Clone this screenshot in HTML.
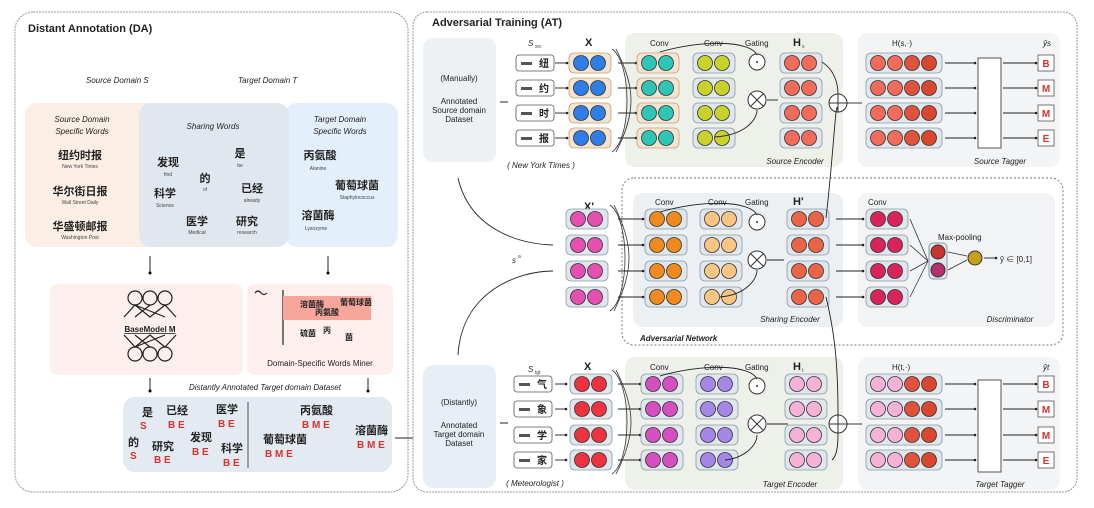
<!DOCTYPE html>
<html><head><meta charset="utf-8"><style>
html,body{margin:0;padding:0;background:#fff;width:1094px;height:508px;overflow:hidden}
svg{display:block}
text{font-family:"Liberation Sans","Noto Sans CJK SC",sans-serif;fill:#222}
.t{font-size:11px;font-weight:bold}
.s{font-size:8px}
.i{font-style:italic}
.cj{font-size:11px;font-weight:bold}
.tiny{font-size:5px;fill:#444}
.red{fill:#d9322e;font-weight:bold;font-size:10px}
</style></head><body>
<svg id="sv" width="1094" height="508" viewBox="0 0 1094 508" xmlns="http://www.w3.org/2000/svg">
<defs><marker id="ar" markerWidth="5" markerHeight="5" refX="4" refY="2.5" orient="auto"><path d="M0,0 L5,2.5 L0,5z" fill="#222"/></marker></defs>
<rect x="15" y="12" width="393" height="480" rx="18" fill="#fff" stroke="#999" stroke-dasharray="2,1"/>
<text x="28" y="32" class="t">Distant Annotation (DA)</text>
<text x="86" y="83" class="s i" font-size="10">Source Domain S</text>
<text x="238" y="83" class="s i" font-size="10">Target Domain T</text>
<rect x="25" y="103" width="135" height="144" rx="12" fill="#fbeee4"/>
<rect x="285" y="103" width="113" height="144" rx="12" fill="#e3effa"/>
<rect x="139" y="103" width="150" height="144" rx="12" fill="#e1e7ee"/>
<text x="82" y="122" class="s i" text-anchor="middle" font-size="9.5">Source Domain</text>
<text x="82" y="134" class="s i" text-anchor="middle" font-size="9.5">Specific Words</text>
<text x="213" y="129" class="s i" text-anchor="middle" font-size="9.5">Sharing Words</text>
<text x="340" y="122" class="s i" text-anchor="middle" font-size="9.5">Target Domain</text>
<text x="340" y="134" class="s i" text-anchor="middle" font-size="9.5">Specific Words</text>
<text x="80" y="159" class="cj" text-anchor="middle">纽约时报</text><text x="80" y="168" class="tiny" text-anchor="middle">New York Times</text>
<text x="80" y="195" class="cj" text-anchor="middle">华尔街日报</text><text x="80" y="204" class="tiny" text-anchor="middle">Wall Street Daily</text>
<text x="80" y="230" class="cj" text-anchor="middle">华盛顿邮报</text><text x="80" y="239" class="tiny" text-anchor="middle">Washington Post</text>
<text x="168" y="166" class="cj" text-anchor="middle">发现</text><text x="168" y="176" class="tiny" text-anchor="middle">find</text>
<text x="205" y="182" class="cj" text-anchor="middle">的</text><text x="205" y="191" class="tiny" text-anchor="middle">of</text>
<text x="240" y="157" class="cj" text-anchor="middle">是</text><text x="240" y="167" class="tiny" text-anchor="middle">be</text>
<text x="165" y="197" class="cj" text-anchor="middle">科学</text><text x="165" y="207" class="tiny" text-anchor="middle">Science</text>
<text x="252" y="192" class="cj" text-anchor="middle">已经</text><text x="252" y="202" class="tiny" text-anchor="middle">already</text>
<text x="197" y="225" class="cj" text-anchor="middle">医学</text><text x="197" y="234" class="tiny" text-anchor="middle">Medical</text>
<text x="247" y="225" class="cj" text-anchor="middle">研究</text><text x="247" y="234" class="tiny" text-anchor="middle">research</text>
<text x="320" y="159" class="cj" text-anchor="middle">丙氨酸</text><text x="318" y="170" class="tiny" text-anchor="middle">Alanine</text>
<text x="357" y="189" class="cj" text-anchor="middle">葡萄球菌</text><text x="357" y="199" class="tiny" text-anchor="middle">Staphylococcus</text>
<text x="318" y="219" class="cj" text-anchor="middle">溶菌酶</text><text x="316" y="230" class="tiny" text-anchor="middle">Lysozyme</text>
<line x1="150" y1="256" x2="150" y2="272" stroke="#222"/><circle cx="150" cy="273" r="1.5"/>
<line x1="328" y1="256" x2="328" y2="272" stroke="#222"/><circle cx="328" cy="273" r="1.5"/>
<rect x="50" y="284" width="193" height="91" rx="8" fill="#fcefed"/>
<rect x="247" y="284" width="146" height="91" rx="8" fill="#fcefed"/>
<g fill="none" stroke="#222" stroke-width="1.2">
<circle cx="135" cy="298" r="7"/><circle cx="150" cy="298" r="7"/><circle cx="165" cy="298" r="7"/>
<path d="M124,317 L135,305 L150,317 L165,305 L176,317 M135,305 L165,317 M150,305 L135,317 M165,305 L150,317"/>
<path d="M124,335 L135,347 L150,335 L165,347 L176,335 M135,347 L165,335 M150,347 L135,335 M165,347 L150,335"/>
<circle cx="135" cy="354" r="7"/><circle cx="150" cy="354" r="7"/><circle cx="165" cy="354" r="7"/>
<path d="M255,293 q3,-4 6,0 q3,3 6,0"/>
<line x1="283" y1="290" x2="283" y2="345"/>
</g>
<text x="150" y="332" class="s" text-anchor="middle" font-weight="bold" text-decoration="underline">BaseModel M</text>
<rect x="283" y="296" width="88" height="24" fill="#f7a69c"/>
<text x="300" y="307" class="s" font-weight="bold">溶菌酶</text><text x="340" y="305" class="s" font-weight="bold">葡萄球菌</text>
<text x="315" y="315" class="s" font-weight="bold">丙氨酸</text>
<text x="300" y="336" class="s" font-weight="bold">硫菌</text><text x="323" y="333" class="s" font-weight="bold">丙</text><text x="345" y="340" class="s" font-weight="bold">菌</text>
<text x="320" y="366" class="s" text-anchor="middle" font-size="7.5">Domain-Specific Words Miner</text>
<line x1="150" y1="378" x2="150" y2="390" stroke="#222"/><circle cx="150" cy="391" r="1.5"/>
<line x1="368" y1="378" x2="368" y2="390" stroke="#222"/><circle cx="368" cy="391" r="1.5"/>
<text x="265" y="390" class="s i" text-anchor="middle" font-size="7.5">Distantly Annotated Target domain Dataset</text>
<rect x="123" y="397" width="269" height="75" rx="12" fill="#e4eaf1"/>
<line x1="248" y1="402" x2="248" y2="468" stroke="#555"/>
<text x="142" y="416" class="cj">是</text><text x="140" y="429" class="red">S</text>
<text x="166" y="414" class="cj">已经</text><text x="168" y="428" class="red">B E</text>
<text x="216" y="413" class="cj">医学</text><text x="218" y="427" class="red">B E</text>
<text x="128" y="446" class="cj">的</text><text x="130" y="459" class="red">S</text>
<text x="152" y="450" class="cj">研究</text><text x="154" y="463" class="red">B E</text>
<text x="190" y="441" class="cj">发现</text><text x="192" y="455" class="red">B E</text>
<text x="221" y="452" class="cj">科学</text><text x="223" y="466" class="red">B E</text>
<text x="300" y="414" class="cj">丙氨酸</text><text x="302" y="428" class="red">B M E</text>
<text x="263" y="443" class="cj">葡萄球菌</text><text x="265" y="457" class="red">B M E</text>
<text x="355" y="434" class="cj">溶菌酶</text><text x="357" y="448" class="red">B M E</text>
<line x1="395" y1="438" x2="418" y2="438" stroke="#222" marker-end="url(#ar)"/>

<rect x="413" y="12" width="664" height="480" rx="14" fill="#fff" stroke="#999" stroke-dasharray="2,1"/>
<text x="432" y="26" class="t">Adversarial Training (AT)</text>
<rect x="423" y="38" width="73" height="124" rx="10" fill="#eef1f4"/>
<rect x="423" y="365" width="73" height="123" rx="10" fill="#e8eef5"/>
<text x="459" y="81" class="s" text-anchor="middle" font-size="7.5">(Manually)</text>
<text x="459" y="104" class="s" text-anchor="middle" font-size="7.5">Annotated</text>
<text x="459" y="113" class="s" text-anchor="middle" font-size="7.5">Source domain</text>
<text x="459" y="122" class="s" text-anchor="middle" font-size="7.5">Dataset</text>
<text x="459" y="405" class="s" text-anchor="middle" font-size="7">(Distantly)</text>
<text x="459" y="428" class="s" text-anchor="middle" font-size="7">Annotated</text>
<text x="459" y="437" class="s" text-anchor="middle" font-size="7">Target domain</text>
<text x="459" y="446" class="s" text-anchor="middle" font-size="7">Dataset</text>
<line x1="500" y1="102" x2="508" y2="102" stroke="#222"/><line x1="500" y1="423" x2="508" y2="423" stroke="#222"/>
<text x="528" y="46" class="s i">S</text><text x="535" y="48" class="tiny">src</text>
<text x="528" y="372" class="s i">S</text><text x="535" y="374" class="tiny">tgt</text>
<text x="585" y="46" class="t" font-size="9">X</text><text x="584" y="210" class="t" font-size="9">X'</text><text x="584" y="370" class="t" font-size="9">X</text>
<text x="541" y="168" class="s i" font-size="7" text-anchor="middle">( New York Times )</text>
<text x="535" y="486" class="s i" font-size="7" text-anchor="middle">( Meteorologist )</text>
<rect x="625" y="33" width="218" height="134" rx="10" fill="#eef0ea"/>
<rect x="858" y="33" width="202" height="134" rx="10" fill="#f2f4f6"/>
<rect x="622" y="178" width="441" height="167" rx="12" fill="none" stroke="#777" stroke-dasharray="2,2"/>
<rect x="633" y="193" width="210" height="134" rx="10" fill="#edf0f3"/>
<rect x="858" y="193" width="197" height="134" rx="10" fill="#f1f3f5"/>
<rect x="625" y="357" width="218" height="133" rx="10" fill="#eef0ea"/>
<rect x="858" y="357" width="202" height="133" rx="10" fill="#f2f4f6"/>
<g class="s" font-size="7">
<text x="650" y="46">Conv</text><text x="704" y="46">Conv</text><text x="745" y="46">Gating</text>
<text x="655" y="205">Conv</text><text x="708" y="205">Conv</text><text x="745" y="205">Gating</text>
<text x="650" y="370">Conv</text><text x="704" y="370">Conv</text><text x="745" y="370">Gating</text>
<text x="868" y="205">Conv</text>
<text x="938" y="240">Max-pooling</text>
<text x="1000" y="262">ŷ ∈ [0,1]</text>
<text x="985" y="106">CRF</text><text x="985" y="432">CRF</text>
</g>
<text x="793" y="46" class="t" font-size="9">H</text><text x="802" y="48" class="tiny">s</text>
<text x="793" y="205" class="t" font-size="9">H'</text>
<text x="793" y="370" class="t" font-size="9">H</text><text x="802" y="372" class="tiny">t</text>
<text x="892" y="46" class="s" font-size="7">H(s,·)</text><text x="892" y="370" class="s" font-size="7">H(t,·)</text>
<text x="1043" y="46" class="s i" font-size="7">ŷs</text><text x="1043" y="370" class="s i" font-size="7">ŷt</text>
<text x="795" y="164" class="s i" text-anchor="middle" font-size="8.5">Source Encoder</text>
<text x="1000" y="164" class="s i" text-anchor="middle" font-size="8.5">Source  Tagger</text>
<text x="790" y="322" class="s i" text-anchor="middle" font-size="8.5">Sharing Encoder</text>
<text x="1010" y="322" class="s i" text-anchor="middle" font-size="8.5">Discriminator</text>
<text x="640" y="341" class="s i" font-weight="bold" font-size="8">Adversarial Network</text>
<text x="790" y="487" class="s i" text-anchor="middle" font-size="8.5">Target Encoder</text>
<text x="1000" y="487" class="s i" text-anchor="middle" font-size="8.5">Target  Tagger</text>
<text x="512" y="263" class="s i" font-size="8">s</text><text x="518" y="258" class="tiny">a</text>
<g id="dyn"></g>
<g fill="none" stroke="#222" stroke-width="0.9">
<path d="M458,178 C470,230 520,244 553,245"/>
<path d="M458,355 C462,290 520,271 553,271"/>
<path d="M660,52 C700,40 750,40 757,55"/>
<path d="M660,212 C700,200 750,200 757,215"/>
<path d="M660,376 C700,364 750,364 757,379"/>
<path d="M715,137 C745,135 757,120 757,110"/>
<path d="M720,297 C745,295 757,280 757,270"/>
<path d="M725,460 C745,458 757,445 757,435"/>
<path d="M822,62 C835,70 838,85 838,94"/>
<path d="M826,218 C834,150 836,90 838,112"/>
<path d="M826,297 C834,330 838,360 838,415"/>
<path d="M832,460 C838,455 838,440 838,433"/>
<line x1="847" y1="103" x2="862" y2="103"/><line x1="847" y1="424" x2="862" y2="424"/>
<line x1="767" y1="100" x2="778" y2="100"/><line x1="767" y1="260" x2="784" y2="260"/><line x1="767" y1="424" x2="788" y2="424"/>
</g>
</svg>
<script>
const NS="http://www.w3.org/2000/svg";
const g=document.getElementById('dyn');
function el(t,a){const e=document.createElementNS(NS,t);for(const k in a)e.setAttribute(k,a[k]);g.appendChild(e);return e;}
function pill(x,y,cols,bg,st){const w=cols.length*17+8;el('rect',{x:x,y:y-10,width:w,height:20,rx:5,fill:bg||'#dfe6ec',stroke:st||'#8a9aa8','stroke-width':0.8});
cols.forEach((c,i)=>el('circle',{cx:x+12+i*17,cy:y,r:7.5,fill:c,stroke:'#333','stroke-width':0.8}));}
function line(x1,y1,x2,y2){el('line',{x1,y1,x2,y2,stroke:'#222','stroke-width':0.9});el('circle',{cx:x2,cy:y2,r:1.3,fill:'#222'});}
function gate(x,y){el('circle',{cx:x,cy:y-38,r:8,fill:'#fff',stroke:'#333'});el('circle',{cx:x,cy:y-38,r:1,fill:'#333'});
el('circle',{cx:x,cy:y,r:9,fill:'#fff',stroke:'#333'});el('path',{d:`M${x-6},${y-6}L${x+6},${y+6}M${x+6},${y-6}L${x-6},${y+6}`,stroke:'#333',fill:'none'});}
function oplus(x,y){el('circle',{cx:x,cy:y,r:9,fill:'#fff',stroke:'#333'});el('path',{d:`M${x-9},${y}H${x+9}M${x},${y-9}V${y+9}`,stroke:'#333',fill:'none'});}
function tok(x,y,w){el('rect',{x:x,y:y-8,width:38,height:16,rx:3,fill:'#fff',stroke:'#555','stroke-width':0.8});
const t=el('text',{x:x+23,y:y+4,'font-size':10,'font-weight':'bold'});t.textContent=w;
el('rect',{x:x+5,y:y-1,width:11,height:3,fill:'#555'});}
function fan(x,ys){el('path',{d:`M${x},${ys[0]-14} C${x+20},${ys[0]} ${x+20},${ys[3]} ${x},${ys[3]+14}`,fill:'none',stroke:'#333','stroke-width':0.8});
el('path',{d:`M${x+4},${ys[0]-14} C${x+24},${ys[1]} ${x+24},${ys[2]} ${x+4},${ys[3]+14}`,fill:'none',stroke:'#333','stroke-width':0.8});}
const R1=[63,88,113,138],R2=[219,245,271,297],R3=[384,409,435,460];
const sw=['纽','约','时','报'],tw=['气','象','学','家'];
R1.forEach((y,i)=>{tok(516,y,sw[i]);line(555,y,567,y);pill(569,y,['#2f7ee8','#2f7ee8'],'#f3e4d2','#c9a27a');line(618,y,636,y);
pill(637,y,['#2ec4b6','#2ec4b6'],'#f3e4d2','#c9a27a');pill(693,y,['#c9d22b','#c9d22b']);pill(780,y,['#f26b5b','#f26b5b']);
pill(866,y,['#f26b5b','#f26b5b','#e0523c','#d9472f']);line(945,y,975,y);line(1003,y,1036,y);});
fan(612,R1);
R2.forEach((y,i)=>{pill(566,y,['#e44fb0','#e44fb0']);line(618,y,643,y);pill(645,y,['#f08a1c','#f08a1c']);pill(700,y,['#fbc583','#fbc583']);
pill(787,y,['#ec6446','#ec6446']);line(836,y,863,y);pill(866,y,['#d9245a','#d9245a']);});
fan(610,R2);
R3.forEach((y,i)=>{tok(514,y,tw[i]);line(555,y,566,y);pill(570,y,['#ee3340','#ee3340']);line(618,y,640,y);
pill(641,y,['#d44fc0','#d44fc0']);pill(696,y,['#a487e8','#a487e8']);pill(785,y,['#f6b2d6','#f6b2d6']);
pill(866,y,['#f6b2d6','#f6b2d6','#e0523c','#d9472f']);line(945,y,975,y);line(1003,y,1036,y);});
fan(612,R3);
gate(757,100);gate(757,260);gate(757,424);oplus(838,103);oplus(838,424);
el('rect',{x:978,y:58,width:23,height:90,fill:'#fff',stroke:'#555'});
el('rect',{x:978,y:380,width:23,height:92,fill:'#fff',stroke:'#555'});
const tg=['B','M','M','E'];
[R1,R3].forEach(R=>R.forEach((y,i)=>{el('rect',{x:1038,y:y-8,width:16,height:16,fill:'#fff',stroke:'#555','stroke-width':0.8});
const t=el('text',{x:1046,y:y+4,'text-anchor':'middle',class:'red','font-size':8});t.textContent=tg[i];}));
el('rect',{x:929,y:243,width:18,height:36,rx:4,fill:'#dfe6ec',stroke:'#8a9aa8'});
el('circle',{cx:938,cy:252,r:7,fill:'#c9342c',stroke:'#333'});el('circle',{cx:938,cy:270,r:7,fill:'#b3306c',stroke:'#333'});
R2.forEach(y=>el('line',{x1:910,y1:y,x2:928,y2:261,stroke:'#333','stroke-width':0.8}));
el('line',{x1:948,y1:252,x2:967,y2:256,stroke:'#333','stroke-width':0.8});el('line',{x1:948,y1:270,x2:967,y2:260,stroke:'#333','stroke-width':0.8});
el('circle',{cx:975,cy:258,r:7,fill:'#c8a016',stroke:'#333'});line(984,258,996,258);
</script>
</body></html>
